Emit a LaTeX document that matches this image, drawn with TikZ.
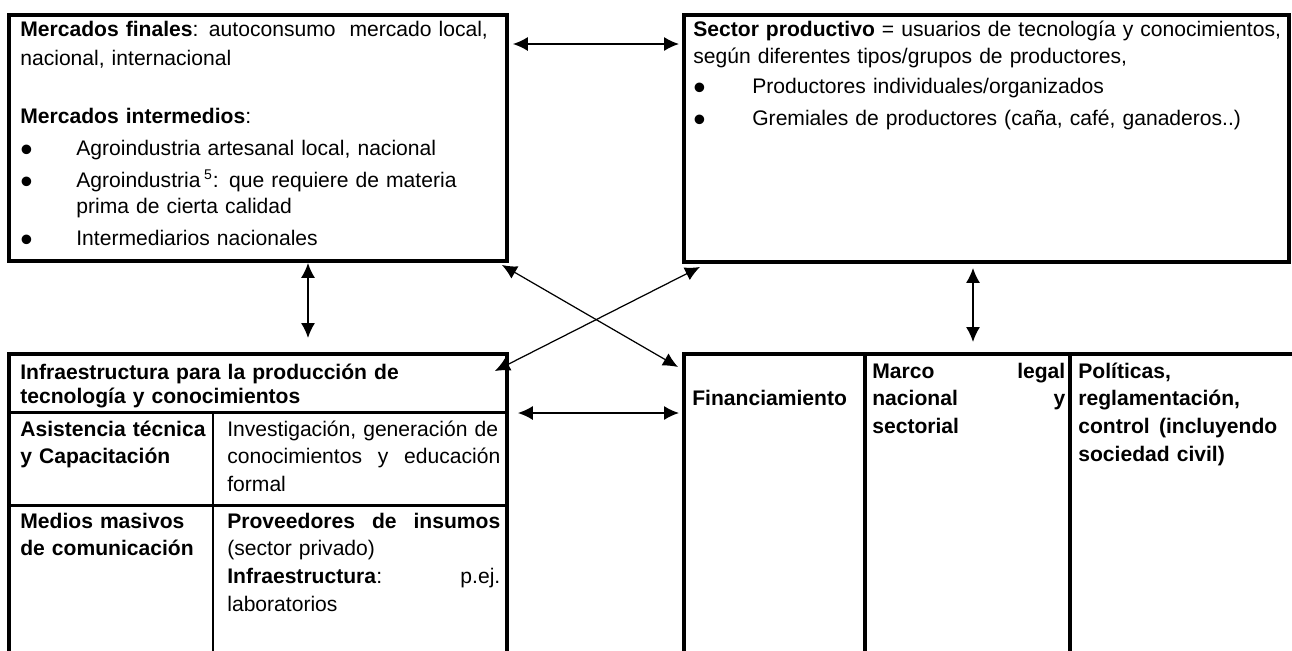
\documentclass[tikz,border=0pt]{standalone}
\usepackage{fontspec}
\setmainfont{Liberation Sans}
\usepackage{tikz}
\usetikzlibrary{arrows.meta}

\newcommand{\bulletmark}{\raisebox{-3.4pt}{\fontsize{20pt}{20pt}\selectfont\textbullet}}

\begin{document}
\begin{tikzpicture}[x=0.02cm, y=-0.02cm]
        \tikzstyle{box} = [rectangle, draw=black, line width=2.6pt, inner sep=0pt, outer sep=0pt, anchor=north west]
        \tikzstyle{frame} = [rectangle, inner sep=0pt, outer sep=0pt, anchor=north west]
        \tikzstyle{border} = [line width=2.6pt]
        \tikzstyle{divider} = [line width=2.3pt]
        \tikzstyle{rule} = [line width=1.7pt]
        \tikzstyle{txt} = [inner sep=0pt, anchor=base west, align=left, font=\fontsize{12pt}{15.9pt}\selectfont]
        \tikzstyle{head} = [inner sep=0pt, anchor=base west, align=left, font=\bfseries\fontsize{12pt}{13.7pt}\selectfont]
        \tikzstyle{boldtxt} = [txt, font=\bfseries\fontsize{12pt}{15.9pt}\selectfont]
        \tikzstyle{link} = [line width=0.95pt, {Latex[length=8.5pt,width=8pt]}-{Latex[length=8.5pt,width=8pt]}]
        \tikzstyle{cross} = [line width=0.7pt, {Latex[length=8.5pt,width=8pt]}-{Latex[length=8.5pt,width=8pt]}]

        \useasboundingbox (0,0) rectangle (1292,650);

        % top boxes
        \node (mercados) [box, minimum width=9.96cm, minimum height=4.92cm] at (9,15) {};
        \node (sector) [box, minimum width=12.1cm, minimum height=4.94cm] at (684,15) {};

        % bottom tables, open at the bottom
        \node (infra) [frame, minimum width=9.96cm, minimum height=6.32cm] at (9,354) {};
        \node (finan) [frame, minimum width=12.52cm, minimum height=6.32cm] at (684,354) {};
        \draw [border] (infra.south west) -- (infra.north west) -- (infra.north east) -- (infra.south east);
        \draw [rule] ([shift={(0,58)}]infra.north west) -- ([shift={(0,58)}]infra.north east);
        \draw [rule] ([shift={(0,151)}]infra.north west) -- ([shift={(0,151)}]infra.north east);
        \draw [rule] ([shift={(204,58)}]infra.north west) -- ([shift={(204,0)}]infra.south west);
        \draw [border] (finan.south west) -- (finan.north west) -- (finan.north east);
        \draw [divider] ([shift={(181,0)}]finan.north west) -- ([shift={(181,0)}]finan.south west);
        \draw [divider] ([shift={(386,0)}]finan.north west) -- ([shift={(386,0)}]finan.south west);

        % texts
        \node (mercadostxt) [txt, text width=9.6cm] at (20,36) {\textbf{Mercados finales}: autoconsumo\ \ mercado local,\\[1.1pt]
            nacional, internacional\\[17pt]
            \textbf{Mercados intermedios}:\\[2.3pt]
            \makebox[1.12cm][l]{\bulletmark}Agroindustria artesanal local, nacional\\[2.3pt]
            \makebox[1.12cm][l]{\bulletmark}Agroindustria\,\textsuperscript{5}: que requiere de materia\\[-1.1pt]
            \hspace*{1.12cm}prima de cierta calidad\\[2.3pt]
            \makebox[1.12cm][l]{\bulletmark}Intermediarios nacionales};
        \node (sectortxt) [txt, text width=11.9cm] at (693,36) {\textbf{Sector productivo} = usuarios de tecnología y conocimientos,\\
            según diferentes tipos/grupos de productores,\\[1.1pt]
            \makebox[1.18cm][l]{\bulletmark}Productores individuales/organizados\\[2.3pt]
            \makebox[1.18cm][l]{\bulletmark}Gremiales de productores (caña, café, ganaderos..)};

        \node (infrahead) [head, text width=9.6cm] at (20,379) {Infraestructura para la producción de\\ tecnología y conocimientos};
        \node (asist) [boldtxt, text width=3.8cm] at (20,436) {Asistencia técnica\\ y Capacitación};
        \node (invest) [txt, text width=5.46cm] at (227,436) {Investigación, generación de\\ conocimientos\hfill y\hfill educación\\ formal};
        \node (medios) [boldtxt, text width=3.8cm] at (20,528) {Medios masivos\\ de comunicación};
        \node (provee) [txt, text width=5.46cm] at (227,528) {\textbf{Proveedores}\hfill\textbf{de}\hfill\textbf{insumos}\\ (sector privado)\\ \textbf{Infraestructura}:\hfill p.ej.\\ laboratorios};

        \node (finantxt) [boldtxt] at (692,405) {Financiamiento};
        \node (marco) [boldtxt, text width=3.86cm] at (872,378) {Marco\hfill legal\\ nacional\hfill y\\ sectorial};
        \node (politicas) [boldtxt, text width=3.98cm] at (1078,378) {Políticas,\\ reglamentación,\\ control\hfill (incluyendo\\ sociedad civil)};

        % connectors
        \draw [link] ([shift={(6,29)}]mercados.north east) -- ([shift={(-5,29)}]sector.north west);
        \draw [link] ([shift={(299,2)}]mercados.south west) -- ([shift={(299,-16)}]infra.north west);
        \draw [link] ([shift={(289,6)}]sector.south west) -- ([shift={(289,-12)}]finan.north west);
        \draw [link] ([shift={(11,59)}]infra.north east) -- ([shift={(-5,59)}]finan.north west);
        \draw [cross] ([shift={(-5,4)}]mercados.south east) -- ([shift={(-6,13)}]finan.north west);
        \draw [cross] ([shift={(-12,17)}]infra.north east) -- ([shift={(16,5)}]sector.south west);
    \end{tikzpicture}
\end{document}
